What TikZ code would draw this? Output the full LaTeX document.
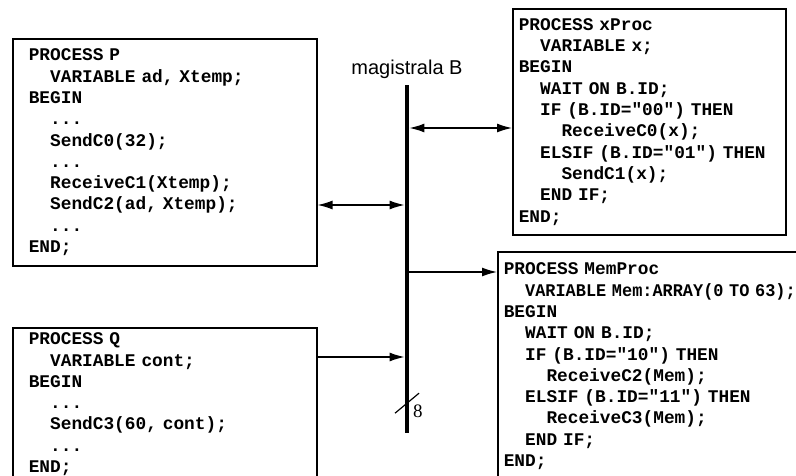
\documentclass[tikz,border=0pt]{standalone}
\usepackage{fontspec}
\usepackage{graphicx}
\setmainfont{Liberation Serif}
\newfontfamily\codefont{Liberation Mono}
\newfontfamily\labelfont{Liberation Sans}
\usetikzlibrary{positioning,arrows.meta}

\newcommand{\ia}{\hspace*{1.2em}}
\newcommand{\ib}{\hspace*{2.4em}}

\tikzset{
  proc/.style={draw,line width=1.6pt,align=left,anchor=north west,inner ysep=0pt,
    font=\codefont\bfseries\fontsize{17.8}{21.3}\selectfont},
  link/.style={line width=1.3pt,arrows={-Latex[length=15pt,width=9pt]}},
  dlink/.style={line width=1.3pt,arrows={Latex[length=15pt,width=9pt]-Latex[length=15pt,width=9pt]}}
}

\begin{document}
\begin{tikzpicture}[x=1pt,y=-1pt]
\useasboundingbox (0,0) rectangle (796,476);
\clip (0,0) rectangle (796,476);

\node[proc,inner xsep=16pt,text width=272pt,minimum height=227pt] (P) at (12,38) {%
PROCESS P\\
\ia VARIABLE ad, Xtemp;\\
BEGIN\\
\ia ...\\
\ia SendC0(32);\\
\ia ...\\
\ia ReceiveC1(Xtemp);\\
\ia SendC2(ad, Xtemp);\\
\ia ...\\
END;};

\node[proc,inner xsep=16pt,text width=272pt,minimum height=153pt] (Q) at (12,327) {%
PROCESS Q\\
\ia VARIABLE cont;\\
BEGIN\\
\ia ...\\
\ia SendC3(60, cont);\\
\ia ...\\
END;};

\node[proc,inner xsep=6pt,text width=261pt,minimum height=226pt] (X) at (512,8) {%
PROCESS xProc\\
\ia VARIABLE x;\\
BEGIN\\
\ia WAIT ON B.ID;\\
\ia IF (B.ID="00") THEN\\
\ib ReceiveC0(x);\\
\ia ELSIF (B.ID="01") THEN\\
\ib SendC1(x);\\
\ia END IF;\\
END;};

\node[proc,inner xsep=6pt,text width=297pt,minimum height=229pt] (M) at (497,251) {%
PROCESS MemProc\\
\ia \scalebox{0.95}[1]{VARIABLE Mem:ARRAY(0 TO 63);}\\
BEGIN\\
\ia WAIT ON B.ID;\\
\ia IF (B.ID="10") THEN\\
\ib ReceiveC2(Mem);\\
\ia ELSIF (B.ID="11") THEN\\
\ib ReceiveC3(Mem);\\
\ia END IF;\\
END;};

% magistrala
\node[fill,inner sep=0pt,minimum width=4.5pt,minimum height=348pt] (bus) at (407,259) {};
\node[above=6pt of bus,inner sep=0pt,font=\labelfont\fontsize{20}{24}\selectfont] (lbl) {magistrala B};

\path (P.north east) ++(0,167) coordinate (pP);
\path (X.north west) ++(0,120) coordinate (pX);
\path (M.north west) ++(0,21) coordinate (pM);
\path (Q.north east) ++(0,30) coordinate (pQ);

\draw[dlink] (pP) -- (pP -| bus.west);
\draw[dlink] (pX -| bus.east) -- (pX);
\draw[link] (pM -| bus.east) -- (pM);
\draw[link] (pQ) -- (pQ -| bus.west);

% 8 biti
\path (bus.south) ++(0,-30) coordinate (cut);
\draw[line width=1.2pt] (cut) ++(-12,10) -- ++(24,-20);
\node[anchor=west,inner sep=0pt,font=\fontsize{19}{22}\selectfont] (bits) at ([xshift=6pt,yshift=-8pt]cut) {8};

\end{tikzpicture}
\end{document}
